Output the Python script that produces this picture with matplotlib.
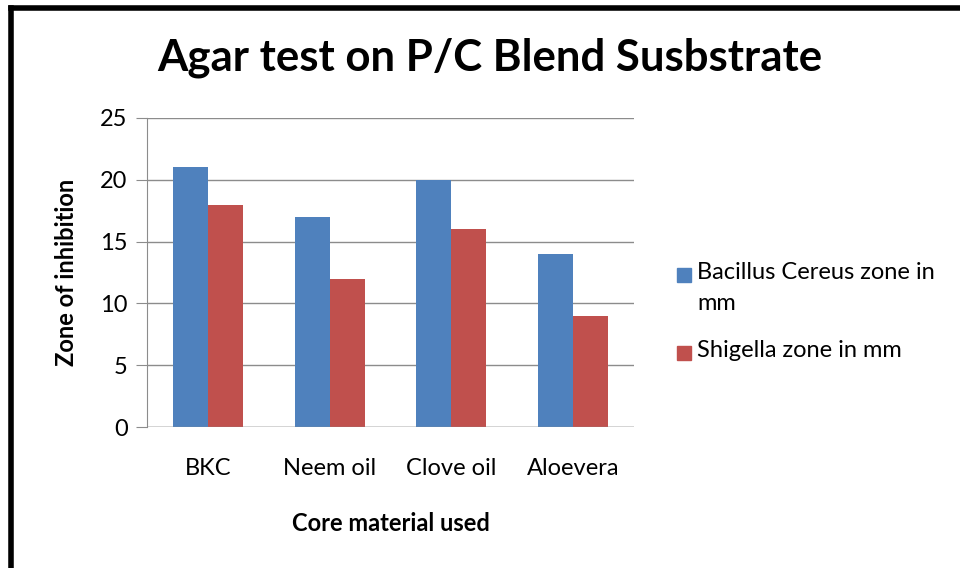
import numpy as np
import matplotlib.pyplot as plt
from matplotlib.lines import Line2D
from matplotlib.patches import Rectangle

plt.rcParams['font.family'] = ['Lato', 'DejaVu Sans']

categories = ['BKC', 'Neem oil', 'Clove oil', 'Aloevera']
bacillus = [21, 17, 20, 14]
shigella = [18, 12, 16, 9]
series_names = ['Bacillus Cereus zone in\nmm', 'Shigella zone in mm']
colors = ['#4F81BD', '#C0504D']

W, H = 960, 568
fig = plt.figure(figsize=(W / 100, H / 100), dpi=100)
ax = fig.add_axes([147 / W, 1 - 427 / H, (634 - 147) / W, (427 - 118) / H])

x = np.arange(len(categories))
w = 0.287
ax.bar(x - w / 2, bacillus, w, color=colors[0])
ax.bar(x + w / 2, shigella, w, color=colors[1])

ax.set_xlim(-0.5, len(categories) - 0.5)
ax.set_ylim(0, 25)
ax.set_yticks(range(0, 26, 5))
ax.set_xticks(x)
ax.set_xticklabels(categories)
ax.yaxis.grid(True, color='#8c8c8c', linewidth=1)
ax.set_axisbelow(True)
for s in ['top', 'right', 'bottom']:
    ax.spines[s].set_visible(False)
ax.spines['left'].set_color('#8c8c8c')
ax.axhline(0, color='#8c8c8c', linewidth=1)
ax.tick_params(axis='y', length=8, color='#8c8c8c', labelsize=17, pad=6)
ax.tick_params(axis='x', length=0, labelsize=17, pad=22)

ax.set_xlabel('Core material used', fontsize=17, fontweight='bold', labelpad=24)
ax.set_ylabel('Zone of inhibition', fontsize=17, fontweight='bold', labelpad=16)
fig.text(490 / W, 1 - 58 / H, 'Agar test on P/C Blend Susbstrate',
         fontsize=31.5, fontweight='bold', ha='center', va='center')

# legend drawn by hand so the marker sits on the first text line
leg_y = [275, 353]
for name, c, yy in zip(series_names, colors, leg_y):
    fig.add_artist(Rectangle((677 / W, 1 - (yy + 7) / H), 14 / W, 14 / H,
                             color=c, transform=fig.transFigure))
    fig.text(697 / W, 1 - (yy - 13) / H, name, fontsize=17, ha='left', va='top',
             linespacing=1.6)

# outer frame (only left and top edges visible)
fig.add_artist(Line2D([11 / W, 11 / W], [0, 1 - 8 / H], color='black', linewidth=4))
fig.add_artist(Line2D([11 / W, 1], [1 - 8 / H, 1 - 8 / H], color='black', linewidth=4))

fig.savefig('out.png', dpi=100)
